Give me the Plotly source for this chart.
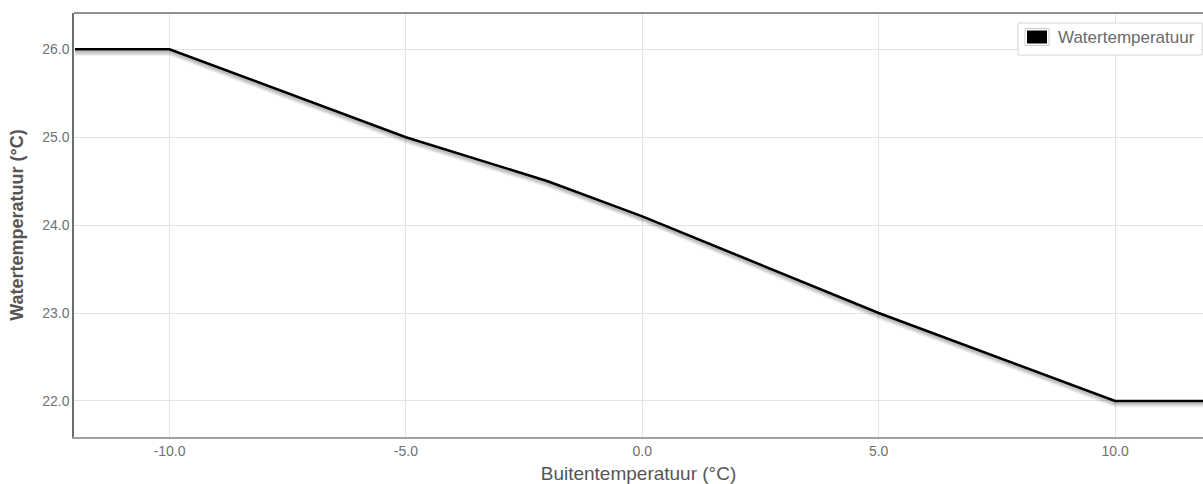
import plotly.graph_objects as go

# Heating curve: outdoor temperature vs. water temperature
buiten_temp = [-12, -10, -5, -2, 0, 5, 10, 12]
water_temp = [26.0, 26.0, 25.0, 24.5, 24.1, 23.0, 22.0, 22.0]

x_ticks = [-10, -5, 0, 5, 10]
y_ticks = [22, 23, 24, 25, 26]

W, H = 1203, 484
M_L, M_R, M_T, M_B = 74, 0, 13, 47
PW, PH = W - M_L - M_R, H - M_T - M_B

FONT = "Liberation Sans, Arial, sans-serif"


def px_x(p):
    return (p - M_L) / PW


def px_y(p):
    return (H - M_B - p) / PH


fig = go.Figure()

# soft drop shadow under the curve
for off, alpha in [(0.058, 0.05), (0.044, 0.08), (0.030, 0.11), (0.016, 0.14)]:
    fig.add_trace(go.Scatter(
        x=buiten_temp, y=[v - off for v in water_temp], mode="lines",
        line=dict(color=f"rgba(0,0,0,{alpha})", width=3),
        hoverinfo="skip", showlegend=False,
    ))

fig.add_trace(go.Scatter(
    x=buiten_temp, y=water_temp, mode="lines", name="Watertemperatuur",
    line=dict(color="#000000", width=2.6), showlegend=False,
))

shapes = [
    # top frame line
    dict(type="line", xref="paper", yref="paper", x0=0, x1=1, y0=1, y1=1,
         line=dict(color="#6e6e6e", width=1.5)),
    # legend frame
    dict(type="rect", xref="paper", yref="paper",
         x0=px_x(1018), x1=px_x(1202), y0=px_y(55), y1=px_y(23),
         fillcolor="white", line=dict(color="#d6d6d6", width=1)),
    # legend swatch
    dict(type="rect", xref="paper", yref="paper",
         x0=px_x(1025), x1=px_x(1049), y0=px_y(45.5), y1=px_y(28.5),
         fillcolor="white", line=dict(color="#cccccc", width=1)),
    dict(type="rect", xref="paper", yref="paper",
         x0=px_x(1027), x1=px_x(1047), y0=px_y(43.5), y1=px_y(30.5),
         fillcolor="#000000", line=dict(width=0)),
]

annotations = [
    dict(text="Watertemperatuur", xref="paper", yref="paper",
         x=px_x(1056), y=px_y(37.5), xanchor="left", yanchor="middle",
         showarrow=False, font=dict(family=FONT, size=17, color="#6a6a6a")),
]

fig.update_layout(
    width=W, height=H,
    margin=dict(l=M_L, r=M_R, t=M_T, b=M_B),
    paper_bgcolor="white", plot_bgcolor="white",
    showlegend=False,
    shapes=shapes, annotations=annotations,
    font=dict(family=FONT, color="#666666"),
    xaxis=dict(
        range=[-12.02, 11.86], tickvals=x_ticks,
        ticktext=[f"{v:.1f}" for v in x_ticks],
        showgrid=True, gridcolor="#e3e3e3", gridwidth=1, zeroline=False,
        showline=True, linecolor="#a0a0a0", linewidth=2,
        ticks="", tickfont=dict(size=14, color="#707070"),
        automargin=False,
        title=dict(text="Buitentemperatuur (°C)", standoff=9,
                   font=dict(size=19, color="#555555")),
    ),
    yaxis=dict(
        range=[21.59, 26.413], tickvals=y_ticks,
        ticktext=[f"{v:.1f}" for v in y_ticks],
        showgrid=True, gridcolor="#e3e3e3", gridwidth=1, zeroline=False,
        showline=True, linecolor="#6e6e6e", linewidth=1.5,
        ticks="", tickfont=dict(size=14, color="#707070"),
        automargin=False,
        title=dict(text="<b>Watertemperatuur (°C)</b>", standoff=14,
                   font=dict(size=18, color="#555555")),
    ),
)

fig.write_html("out.html")
